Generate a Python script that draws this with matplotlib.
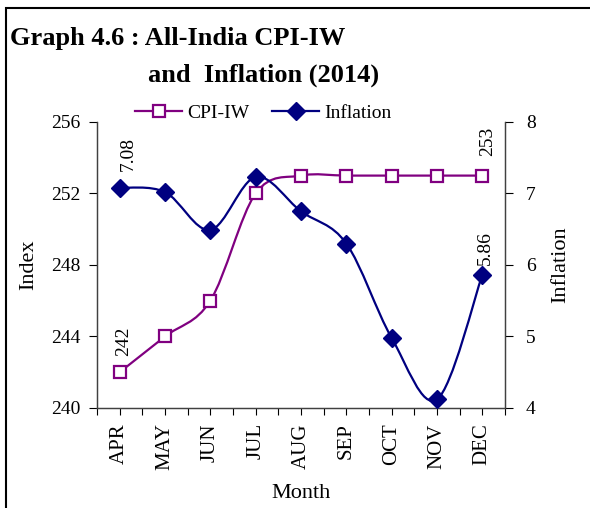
import matplotlib
matplotlib.use("Agg")
import matplotlib.pyplot as plt
from matplotlib.path import Path
from matplotlib.patches import PathPatch, Rectangle
from matplotlib.lines import Line2D
import numpy as np

months = ["APR", "MAY", "JUN", "JUL", "AUG", "SEP", "OCT", "NOV", "DEC"]
cpi_iw = [242, 244, 246, 252, 253, 253, 253, 253, 253]
inflation = [7.08, 7.02, 6.49, 7.23, 6.75, 6.30, 4.98, 4.12, 5.86]

plt.rcParams['font.family'] = ['Liberation Serif', 'DejaVu Serif']

PURPLE = '#800080'
NAVY = '#000080'

fig = plt.figure(figsize=(5.9, 5.08), dpi=100)
ax = fig.add_axes([0.1644, 0.1969, 0.6915, 0.5630])
ax2 = ax.twinx()

x = np.arange(len(months))


def smooth_path(xs, ys, t=1/6):
    verts = [(xs[0], ys[0])]
    codes = [Path.MOVETO]
    n = len(xs)
    for i in range(n - 1):
        p0 = np.array([xs[max(i-1, 0)], ys[max(i-1, 0)]], float)
        p1 = np.array([xs[i], ys[i]], float)
        p2 = np.array([xs[i+1], ys[i+1]], float)
        p3 = np.array([xs[min(i+2, n-1)], ys[min(i+2, n-1)]], float)
        c1 = p1 + (p2 - p0) * t
        c2 = p2 - (p3 - p1) * t
        verts += [tuple(c1), tuple(c2), tuple(p2)]
        codes += [Path.CURVE4] * 3
    return Path(verts, codes)


ax.add_patch(PathPatch(smooth_path(x, cpi_iw), fill=False, edgecolor=PURPLE, lw=1.6, zorder=3))
ax.plot(x, cpi_iw, linestyle='none', marker='s', ms=9, mfc='white', mec=PURPLE, mew=1.6, zorder=4)

ax2.add_patch(PathPatch(smooth_path(x, inflation), fill=False, edgecolor=NAVY, lw=1.6, zorder=3))
ax2.plot(x, inflation, linestyle='none', marker='D', ms=9, mfc=NAVY, mec=NAVY, zorder=4)

ax.set_xlim(-0.5, len(months) - 0.5)
ax.set_ylim(240, 256)
ax.set_yticks([240, 244, 248, 252, 256])
ax2.set_ylim(4, 8)
ax2.set_yticks([4, 5, 6, 7, 8])

ax.set_xticks(x)
ax.set_xticklabels(months, rotation=90, fontsize=15)
ax.set_xticks(np.arange(-0.5, len(months), 1.0), minor=True)
ax.tick_params(axis='x', which='both', direction='out', length=5, width=0.8, pad=6)
ax.tick_params(axis='y', direction='out', length=6, width=0.8, labelsize=14, pad=6)
ax2.tick_params(axis='y', direction='out', length=6, width=0.8, labelsize=14, pad=9)

for a in (ax, ax2):
    a.spines['top'].set_visible(False)
    for s in a.spines.values():
        s.set_color('#404040')
        s.set_linewidth(0.9)

ax.set_ylabel('Index', fontsize=16, labelpad=9)
ax2.set_ylabel('Inflation', fontsize=16, labelpad=11)
ax.set_xlabel('Month', fontsize=16, labelpad=10)

# data labels
ax.annotate(f"{cpi_iw[0]}", (x[0], cpi_iw[0]), xytext=(3, 12), textcoords='offset points',
            rotation=90, ha='center', va='bottom', fontsize=14)
ax.annotate(f"{cpi_iw[-1]}", (x[-1], cpi_iw[-1]), xytext=(4, 14), textcoords='offset points',
            rotation=90, ha='center', va='bottom', fontsize=14)
ax2.annotate(f"{inflation[0]:.2f}", (x[0], inflation[0]), xytext=(6, 12), textcoords='offset points',
             rotation=90, ha='center', va='bottom', fontsize=14)
ax2.annotate(f"{inflation[-1]:.2f}", (x[-1], inflation[-1]), xytext=(2, 7), textcoords='offset points',
             rotation=90, ha='center', va='bottom', fontsize=14)

handles = [
    Line2D([], [], color=PURPLE, lw=1.6, marker='s', ms=9, mfc='white', mec=PURPLE, mew=1.6),
    Line2D([], [], color=NAVY, lw=1.6, marker='D', ms=9, mfc=NAVY, mec=NAVY),
]
fig.legend(handles, ['CPI-IW', 'Inflation'], loc='center', bbox_to_anchor=(0.446, 0.777),
           ncol=2, frameon=False, fontsize=14, handlelength=2.4, columnspacing=1.2,
           handletextpad=0.25)

fig.text(0.017, 0.925, 'Graph 4.6 : All-India CPI-IW', fontsize=19, fontweight='bold', ha='left', va='center')
fig.text(0.446, 0.852, 'and  Inflation (2014)', fontsize=19, fontweight='bold', ha='center', va='center')

fig.patches.append(Rectangle((6/590, -0.01), 1.0, 1 - 8/508 + 0.01, transform=fig.transFigure,
                             fill=False, edgecolor='black', lw=1.5))

fig.savefig('out.png', dpi=100)
